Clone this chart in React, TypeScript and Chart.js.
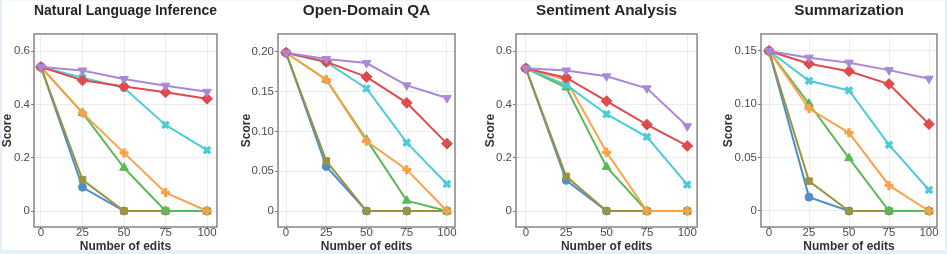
import { useEffect, useRef } from "react";
import { Chart, registerables } from "chart.js";

Chart.register(...registerables);

// ---- data ----
const edits = [0, 25, 50, 75, 100];
const xTickValues = [0, 25, 50, 75, 100];

const seriesNames = ["Method A", "Method B", "Method C", "Method D", "Method E", "Method F", "Method G"];
// series order (top-most drawn first): purple, red, cyan, orange, green, olive, blue
const seriesColors = ["#ab88d6", "#df4a4c", "#4ecbd9", "#f9a24a", "#5cb85a", "#9a9442", "#4d8ecb"];
const seriesMarkers = ["triangleDown", "rectRot", "crossRot", "cross", "triangle", "rect", "circle"];

const panelTitles = ["Natural Language Inference", "Open-Domain QA", "Sentiment Analysis", "Summarization"];

const nliScores = [
  [0.54, 0.527, 0.495, 0.47, 0.447],
  [0.54, 0.49, 0.467, 0.445, 0.421],
  [0.54, 0.5, 0.462, 0.323, 0.228],
  [0.54, 0.368, 0.218, 0.069, 0.0],
  [0.54, 0.368, 0.162, 0.0, 0.0],
  [0.54, 0.117, 0.0, 0.0, 0.0],
  [0.54, 0.089, 0.0, 0.0, 0.0],
];
const qaScores = [
  [0.199, 0.191, 0.186, 0.158, 0.142],
  [0.199, 0.1875, 0.1686, 0.136, 0.0847],
  [0.199, 0.187, 0.154, 0.086, 0.034],
  [0.199, 0.165, 0.0876, 0.052, 0.0],
  [0.199, 0.165, 0.0897, 0.013, 0.0],
  [0.199, 0.063, 0.0, 0.0, 0.0],
  [0.199, 0.056, 0.0, 0.0, 0.0],
];
const saScores = [
  [0.535, 0.527, 0.505, 0.46, 0.318],
  [0.535, 0.5, 0.412, 0.324, 0.244],
  [0.535, 0.473, 0.363, 0.278, 0.099],
  [0.535, 0.491, 0.22, 0.0, 0.0],
  [0.535, 0.463, 0.165, 0.0, 0.0],
  [0.535, 0.13, 0.0, 0.0, 0.0],
  [0.535, 0.115, 0.0, 0.0, 0.0],
];
const sumScores = [
  [0.15, 0.1437, 0.139, 0.132, 0.124],
  [0.15, 0.138, 0.131, 0.119, 0.0814],
  [0.15, 0.122, 0.113, 0.062, 0.0197],
  [0.15, 0.096, 0.0733, 0.024, 0.0],
  [0.15, 0.1005, 0.0495, 0.0, 0.0],
  [0.15, 0.028, 0.0, 0.0, 0.0],
  [0.15, 0.013, 0.0, 0.0, 0.0],
];

const nliYTicks = [0, 0.2, 0.4, 0.6];
const nliYLabels = ["0", "0.2", "0.4", "0.6"];
const qaYTicks = [0, 0.05, 0.1, 0.15, 0.2];
const qaYLabels = ["0", "0.05", "0.10", "0.15", "0.20"];
const saYTicks = [0, 0.2, 0.4, 0.6];
const saYLabels = ["0", "0.2", "0.4", "0.6"];
const sumYTicks = [0, 0.05, 0.1, 0.15];
const sumYLabels = ["0", "0.05", "0.10", "0.15"];

// ---- layout ----
type Panel = {
  title: string;
  scores: number[][];
  yTicks: number[];
  yLabels: string[];
  yMin: number;
  yMax: number;
  xMin: number;
  xMax: number;
  left: number;
  width: number;
  axisWidth: number;
  rightPad: number;
  scoreOffset: number;
};

const panels: Panel[] = [
  { title: panelTitles[0], scores: nliScores, yTicks: nliYTicks, yLabels: nliYLabels, yMin: -0.06, yMax: 0.664, xMin: -4.2, xMax: 106, left: 0, width: 235, axisWidth: 34, rightPad: 18, scoreOffset: 0 },
  { title: panelTitles[1], scores: qaScores, yTicks: qaYTicks, yLabels: qaYLabels, yMin: -0.0201, yMax: 0.2226, xMin: -5, xMax: 105, left: 235, width: 235, axisWidth: 43, rightPad: 15, scoreOffset: 4 },
  { title: panelTitles[2], scores: saScores, yTicks: saYTicks, yLabels: saYLabels, yMin: -0.06, yMax: 0.664, xMin: -6.1, xMax: 106.1, left: 470, width: 235, axisWidth: 46, rightPad: 5, scoreOffset: 13 },
  { title: panelTitles[3], scores: sumScores, yTicks: sumYTicks, yLabels: sumYLabels, yMin: -0.015, yMax: 0.1659, xMin: -5, xMax: 105, left: 705, width: 242, axisWidth: 56, rightPad: 10, scoreOffset: 16 },
];

const FONT = "'Liberation Sans', Arial, sans-serif";

const framePlugin = {
  id: "panelFrame",
  afterDatasetsDraw(chart: any) {
    const { ctx, chartArea } = chart;
    ctx.save();
    ctx.strokeStyle = "#7d7d7d";
    ctx.lineWidth = 1.4;
    ctx.strokeRect(chartArea.left, chartArea.top, chartArea.right - chartArea.left, chartArea.bottom - chartArea.top);
    ctx.restore();
  },
};

function PanelChart({ p }: { p: Panel }) {
  const ref = useRef<HTMLCanvasElement | null>(null);
  useEffect(() => {
    if (!ref.current) return;
    const datasets = p.scores.map((vals, i) => {
      const marker = seriesMarkers[i];
      const isDown = marker === "triangleDown";
      const isStroke = marker === "cross" || marker === "crossRot";
      const style = isDown ? "triangle" : marker;
      let radius = 4.2;
      if (marker === "circle") radius = 4;
      if (marker === "rect") radius = 4.6;
      if (marker === "rectRot") radius = 5.4;
      if (marker === "triangle" || isDown) radius = 5;
      if (isStroke) radius = 4.5;
      return {
        label: seriesNames[i],
        data: edits.map((e, j) => ({ x: e, y: vals[j] })),
        borderColor: seriesColors[i],
        backgroundColor: seriesColors[i],
        borderWidth: 2,
        pointStyle: style,
        pointRotation: isDown ? 180 : 0,
        pointRadius: radius,
        pointBorderWidth: isStroke ? 3.4 : 1,
        pointBackgroundColor: seriesColors[i],
        pointBorderColor: seriesColors[i],
        tension: 0,
        clip: false as any,
        order: i,
      };
    });
    const chart = new Chart(ref.current, {
      type: "line",
      data: { datasets },
      plugins: [framePlugin],
      options: {
        animation: false,
        responsive: false,
        maintainAspectRatio: false,
        layout: { padding: { left: 0, right: p.rightPad, top: 0, bottom: 0 } },
        plugins: {
          legend: { display: false },
          tooltip: { enabled: false },
          title: {
            display: true,
            text: p.title,
            fullSize: false,
            color: "#262626",
            font: { family: FONT, size: 15.3, weight: "bold", lineHeight: 1.2 },
            padding: { top: 1.5, bottom: 14.1 },
          },
        },
        scales: {
          x: {
            type: "linear",
            min: p.xMin,
            max: p.xMax,
            afterBuildTicks: (s: any) => {
              s.ticks = xTickValues.map((v) => ({ value: v }));
            },
            afterFit: (s: any) => {
              s.height = 27;
            },
            ticks: {
              color: "#4d4d4d",
              font: { family: FONT, size: 11.5 },
              padding: -3,
              maxRotation: 0,
              autoSkip: false,
              callback: (v: any) => String(v),
            },
            grid: { color: "#ececec", lineWidth: 1, tickLength: 2, tickColor: "#7d7d7d" },
            border: { display: false },
            title: {
              display: true,
              text: "Number of edits",
              color: "#333333",
              font: { family: FONT, size: 12, weight: "bold", lineHeight: 1.2 },
              padding: { top: 0, bottom: 0 },
            },
          },
          y: {
            type: "linear",
            min: p.yMin,
            max: p.yMax,
            afterBuildTicks: (s: any) => {
              s.ticks = p.yTicks.map((v) => ({ value: v }));
            },
            afterFit: (s: any) => {
              s.width = p.axisWidth;
            },
            ticks: {
              color: "#4d4d4d",
              font: { family: FONT, size: 11.5 },
              padding: 1,
              autoSkip: false,
              callback: (v: any) => {
                const idx = p.yTicks.findIndex((t) => Math.abs(t - v) < 1e-9);
                return idx >= 0 ? p.yLabels[idx] : "";
              },
            },
            grid: { color: "#ececec", lineWidth: 1, tickLength: 3, tickColor: "#7d7d7d" },
            border: { display: false },
            title: {
              display: true,
              text: "Score",
              color: "#333333",
              font: { family: FONT, size: 12, weight: "bold", lineHeight: 1.2 },
              padding: { top: p.scoreOffset, bottom: 0 },
            },
          },
        },
      } as any,
    });
    return () => chart.destroy();
  }, [p]);
  return (
    <canvas
      ref={ref}
      width={p.width}
      height={254}
      style={{ position: "absolute", left: p.left, top: 0, width: p.width, height: 254 }}
    />
  );
}

export default function App() {
  return (
    <div style={{ position: "fixed", left: 0, top: 0, width: 947, height: 254, background: "#ffffff", overflow: "hidden" }}>
      <div
        style={{
          position: "absolute",
          left: 0,
          top: 0,
          width: 947,
          height: 254,
          boxSizing: "border-box",
          borderLeft: "2px solid #e3f1fb",
          borderRight: "2px solid #e3f1fb",
          borderTop: "1px solid #eef7fd",
          borderBottom: "4px solid #e3f1fb",
        }}
      />
      {panels.map((p, i) => (
        <PanelChart key={i} p={p} />
      ))}
    </div>
  );
}
